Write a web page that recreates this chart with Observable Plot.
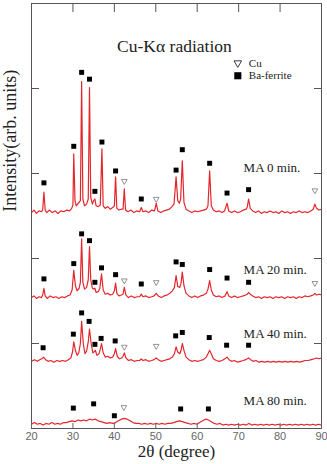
<!DOCTYPE html>
<html><head><meta charset="utf-8">
<script src="https://cdn.jsdelivr.net/npm/d3@7"></script>
<script src="https://cdn.jsdelivr.net/npm/@observablehq/plot@0.6"></script>
<style>html,body{margin:0;padding:0;background:#fff;} #chart svg{display:block;}</style>
</head><body><div id="chart"></div>
<script>
// sample names
const samples = ["MA 0 min.", "MA 20 min.", "MA 40 min.", "MA 80 min."];
// label anchor (2theta, intensity) for each sample name
const labelX = [71.2, 71.2, 71.2, 71.2];
const labelY = [307, 187, 111, 32];

// diffraction traces [2theta, intensity (arb.)]
const ma0 = [[20,254],[20.6,257],[21.2,253],[21.8,256],[22.4,255],[22.7,257],[23.0,278],[23.3,257],[23.7,254],[24.3,257],[25,254],[25.7,256],[26.4,253],[27.1,256],[27.8,255],[28.5,257],[29.2,256],[29.7,259],[30.0,263],[30.2,323],[30.5,268],[30.8,262],[31.3,265],[31.8,268],[32.1,408],[32.4,270],[32.8,262],[33.3,264],[33.7,270],[34.0,401],[34.3,272],[34.7,264],[35.0,268],[35.3,270],[35.6,262],[36.1,261],[36.6,263],[37.0,329],[37.3,262],[37.8,259],[38.4,261],[39.0,258],[39.6,260],[40.0,262],[40.3,296],[40.6,259],[41.1,257],[41.7,258],[42.1,258],[42.4,282],[42.7,257],[43.3,255],[44,257],[44.7,254],[45.4,256],[46.1,255],[46.5,260],[46.9,255],[47.6,256],[48.3,254],[49,257],[49.7,256],[50.1,265],[50.5,256],[51.2,254],[51.9,256],[52.6,257],[53.3,258],[53.9,261],[54.4,264],[54.9,296],[55.3,268],[55.7,265],[56.0,270],[56.4,315],[56.8,266],[57.3,258],[58,256],[58.7,254],[59.4,256],[60.1,255],[60.8,256],[61.5,257],[62.2,258],[62.6,262],[63.0,303],[63.4,262],[63.9,257],[64.6,255],[65.3,256],[66,254],[66.6,256],[67.2,265],[67.6,256],[68.3,254],[69,256],[69.7,254],[70.4,255],[71.1,257],[71.8,258],[72.1,261],[72.4,270],[72.8,259],[73.4,256],[74.1,254],[74.8,256],[75.5,253],[76.2,255],[76.9,254],[77.6,256],[78.3,254],[79,255],[79.7,253],[80.4,256],[81.1,254],[81.8,255],[82.5,253],[83.2,255],[83.9,254],[84.6,256],[85.3,254],[86,255],[86.7,254],[87.4,256],[88.0,258],[88.4,264],[88.8,259],[89.4,257],[90,258]];
const ma20 = [[20,154],[20.6,156],[21.2,153],[21.8,155],[22.4,154],[22.7,157],[23.0,165],[23.3,156],[23.8,153],[24.5,156],[25.2,154],[25.9,155],[26.6,153],[27.3,155],[28,154],[28.7,156],[29.3,157],[29.8,163],[30.2,186],[30.6,168],[31.0,162],[31.5,165],[31.8,172],[32.1,223],[32.4,172],[32.8,164],[33.3,166],[33.7,175],[34.0,214],[34.3,175],[34.7,165],[35.0,164],[35.3,165],[35.6,160],[36.1,161],[36.5,165],[36.9,182],[37.3,163],[37.8,158],[38.4,159],[39.0,157],[39.6,158],[40.0,162],[40.3,171],[40.6,159],[41.1,156],[41.7,157],[42.1,158],[42.4,166],[42.8,157],[43.4,154],[44.1,156],[44.8,154],[45.5,155],[46.1,155],[46.5,158],[46.9,155],[47.6,156],[48.3,154],[49,155],[49.6,156],[50.1,159],[50.6,156],[51.3,154],[52,156],[52.7,157],[53.4,159],[54,162],[54.5,166],[54.9,180],[55.3,167],[55.8,166],[56.1,171],[56.4,184],[56.8,168],[57.3,159],[58,156],[58.7,154],[59.4,156],[60.1,154],[60.8,156],[61.5,157],[62.2,159],[62.6,164],[63.0,174],[63.4,163],[63.9,157],[64.6,155],[65.3,156],[66,154],[66.7,156],[67.2,161],[67.6,156],[68.3,154],[69,156],[69.7,154],[70.4,155],[71.1,156],[71.7,157],[72.1,158],[72.4,160],[72.8,158],[73.4,156],[74.1,154],[74.8,155],[75.5,153],[76.2,155],[76.9,154],[77.6,155],[78.3,153],[79,155],[79.7,154],[80.4,155],[81.1,153],[81.8,155],[82.5,154],[83.2,155],[83.9,153],[84.6,155],[85.3,154],[86,156],[86.7,155],[87.4,156],[88.0,157],[88.4,159],[88.8,157],[89.4,158],[90,157]];
const ma40 = [[20,79],[20.7,81],[21.4,79],[22.0,81],[22.5,82],[22.9,84],[23.4,81],[24.0,79],[24.7,80],[25.4,78],[26.1,80],[26.8,79],[27.5,80],[28.2,79],[28.9,81],[29.5,83],[29.9,90],[30.2,102],[30.6,92],[31.0,86],[31.4,89],[31.8,100],[32.1,126],[32.5,100],[32.9,88],[33.3,91],[33.7,102],[34.0,117],[34.4,100],[34.8,89],[35.1,90],[35.4,92],[35.8,86],[36.3,88],[36.6,93],[36.9,100],[37.3,89],[37.8,84],[38.4,85],[39.0,83],[39.6,84],[40.0,88],[40.3,94],[40.7,85],[41.2,82],[41.8,83],[42.1,85],[42.4,89],[42.8,83],[43.4,80],[44.1,81],[44.8,79],[45.5,80],[46.1,80],[46.5,82],[46.9,80],[47.6,81],[48.3,79],[49,80],[49.6,81],[50.1,83],[50.6,81],[51.3,79],[52,80],[52.7,81],[53.4,82],[54,84],[54.5,88],[54.9,96],[55.3,90],[55.8,88],[56.1,92],[56.4,100],[56.8,92],[57.3,84],[58,81],[58.7,79],[59.4,80],[60.1,79],[60.8,80],[61.5,81],[62.2,84],[62.6,88],[63.0,92],[63.4,88],[63.9,82],[64.6,80],[65.3,79],[66,80],[66.7,82],[67.2,84],[67.7,81],[68.3,79],[69,80],[69.7,78],[70.4,79],[71.1,80],[71.7,81],[72.1,82],[72.4,83],[72.9,81],[73.5,79],[74.2,80],[74.9,78],[75.6,79],[76.3,78],[77,79],[77.7,78],[78.4,79],[79.1,78],[79.8,79],[80.5,78],[81.2,79],[81.9,78],[82.6,79],[83.3,78],[84,79],[84.7,78],[85.4,79],[86.1,80],[86.8,80],[87.5,81],[88.2,82],[88.8,83],[89.4,82],[90,83]];
const ma80 = [[20,5],[20.7,7],[21.4,5],[22.1,6],[22.8,4],[23.5,6],[24.2,5],[24.9,7],[25.6,5],[26.3,6],[27,5],[27.7,7],[28.4,7],[29.1,8],[29.8,9],[30.5,8],[31.2,10],[31.9,9],[32.6,10],[33.3,9],[34,11],[34.7,10],[35.4,11],[36.1,9],[36.8,8],[37.5,7],[38.2,6],[38.9,7],[39.6,6],[40.3,7],[41,9],[41.7,11],[42.4,12],[43.1,11],[43.8,9],[44.5,7],[45.2,6],[45.9,6],[46.6,5],[47.3,6],[48,5],[48.7,6],[49.4,5],[50.1,6],[50.8,5],[51.5,6],[52.2,5],[52.9,6],[53.6,6],[54.3,7],[55,8],[55.7,9],[56.4,8],[57.1,7],[57.8,6],[58.5,5],[59.2,6],[59.9,5],[60.6,7],[61.3,9],[62,11],[62.7,10],[63.4,8],[64.1,6],[64.8,5],[65.5,6],[66.2,4],[66.9,5],[67.6,4],[68.3,5],[69,4],[69.7,5],[70.4,4],[71.1,5],[71.8,4],[72.5,6],[73.2,4],[73.9,5],[74.6,4],[75.3,5],[76,4],[76.7,5],[77.4,4],[78.1,5],[78.8,4],[79.5,5],[80.2,4],[80.9,5],[81.6,4],[82.3,5],[83,4],[83.7,5],[84.4,4],[85.1,5],[85.8,4],[86.5,5],[87.2,4],[87.9,5],[88.6,4],[89.3,5],[90,4]];

// Ba-ferrite peak markers [2theta, intensity]
const ba0 = [[23.0,289],[30.2,332],[32.1,419],[34.0,411],[35.3,279],[37.0,337],[40.3,303],[46.5,270],[54.9,304],[56.4,328],[63.0,312],[67.2,277],[72.4,281]];
const ba20 = [[23.0,176],[30.2,194],[32.1,229],[34.0,221],[35.3,172],[36.9,189],[40.3,181],[46.5,170],[54.9,196],[56.4,193],[63.0,187],[67.2,177],[72.4,172]];
const ba40 = [[22.8,95],[30.1,111],[32.1,136],[33.9,126],[35.3,99],[36.8,106],[40.2,103],[54.8,109],[56.4,113],[62.9,107],[67.1,98],[72.4,98]];
const ba80 = [[30.1,24],[35.0,29],[40.0,15],[56.0,23],[62.7,23]];
// Cu peak markers [2theta, intensity]
const cu0 = [[42.4,291],[50.1,270],[88.4,280]];
const cu20 = [[42.4,174],[50.1,172],[88.4,171]];
const cu40 = [[42.4,96],[50.1,97]];
const cu80 = [[42.3,25]];

// axis ticks
const xTicks = [20, 30, 40, 50, 60, 70, 80, 90];
const yTicks = [100, 200, 300, 400];

// annotations
const titleText = "Cu-K\u03b1 radiation";
const titlePos = [54.5, 450];
const legendNames = ["Cu", "Ba-ferrite"];
const legendY = [430, 415];
const legendX = 69.8;

const traces = [ma0, ma20, ma40, ma80];
const baSets = [ba0, ba20, ba40, ba80];
const cuSets = [cu0, cu20, cu40, cu80];
const lineData = traces.flatMap((t, i) => t.map(([x, y]) => ({sample: samples[i], x, y})));
const baData = baSets.flatMap((t, i) => t.map(([x, y]) => ({sample: samples[i], x, y})));
const cuData = cuSets.flatMap((t, i) => t.map(([x, y]) => ({sample: samples[i], x, y})));
const labelData = samples.map((s, i) => ({text: s, x: labelX[i], y: labelY[i]}));

const serif = "'Liberation Serif', 'Times New Roman', serif";

const chart = Plot.plot({
  width: 327, height: 464,
  marginLeft: 31, marginRight: 6, marginTop: 3, marginBottom: 36,
  x: {domain: [20, 90]},
  y: {domain: [0, 500]},
  style: {fontFamily: "'Liberation Sans', Arial, sans-serif", background: "#fff", overflow: "visible"},
  marks: [
    Plot.line(lineData, {x: "x", y: "y", z: "sample", stroke: "#e4262c", strokeWidth: 1.2}),
    Plot.dot(baData, {x: "x", y: "y", symbol: "square", r: 2.8, fill: "#000", stroke: "none"}),
    Plot.dot(cuData, {x: "x", y: "y", symbol: "triangle", rotate: 180, r: 2.1, fill: "#fff", stroke: "#777", strokeWidth: 0.8}),
    Plot.text(labelData, {x: "x", y: "y", text: "text", textAnchor: "start", fontFamily: serif, fontSize: 13, fill: "#222"}),
    Plot.text([titleText], {x: () => titlePos[0], y: () => titlePos[1], text: d => d, fontFamily: serif, fontSize: 17.5, fill: "#222"}),
    Plot.dot([legendNames[0]], {x: () => legendX, y: () => legendY[0], symbol: "triangle", rotate: 180, r: 2.8, fill: "#fff", stroke: "#222", strokeWidth: 0.9}),
    Plot.dot([legendNames[1]], {x: () => legendX, y: () => legendY[1], symbol: "square", r: 4, fill: "#000"}),
    Plot.text(legendNames, {x: () => legendX, y: (d, i) => legendY[i], text: d => d, dx: 11, textAnchor: "start", fontFamily: serif, fontSize: 11, fill: "#222"}),
    Plot.text(["Intensity(arb. units)"], {frameAnchor: "left", y: () => 255, text: d => d, rotate: -90, dx: -21, fontFamily: serif, fontSize: 18, fill: "#222"}),
    Plot.text(["2\u03b8 (degree)"], {frameAnchor: "bottom", text: d => d, dy: 28, fontFamily: serif, fontSize: 17, fill: "#222"}),
    Plot.frame({stroke: "#555", strokeWidth: 1}),
    Plot.axisX({anchor: "bottom", ticks: xTicks, tickSize: -5, tickPadding: 8.5, label: null, fontSize: 11, color: "#666"}),
    Plot.axisX({anchor: "top", ticks: xTicks, tickSize: -8, tickFormat: () => "", label: null, color: "#555"}),
    Plot.axisY({anchor: "left", ticks: yTicks, tickSize: -8, tickFormat: () => "", label: null, color: "#555"}),
    Plot.axisY({anchor: "right", ticks: yTicks, tickSize: -8, tickFormat: () => "", label: null, color: "#555"})
  ]
});
document.getElementById("chart").appendChild(chart);
</script>
</body></html>
